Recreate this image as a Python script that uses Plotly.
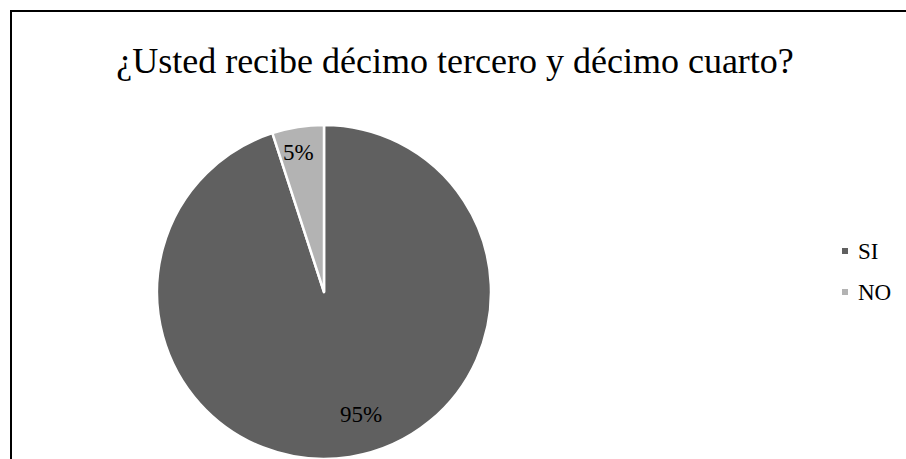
import plotly.graph_objects as go

# Survey answers
categories = ["SI", "NO"]
values = [95, 5]
colors = ["#606060", "#b3b3b3"]

W, H = 906, 459
FONT = "Liberation Serif"

total = sum(values)
pct_text = [f"{round(v / total * 100)}%" for v in values]

# Pie geometry in pixels (center and radius)
cx, cy, r = 324, 292, 167

fig = go.Figure(
    go.Pie(
        labels=categories,
        values=values,
        sort=False,
        direction="clockwise",
        rotation=0,
        marker=dict(colors=colors, line=dict(color="white", width=2.5)),
        textinfo="none",
        hoverinfo="label+percent",
        showlegend=False,
        domain=dict(x=[(cx - r) / W, (cx + r) / W], y=[1 - (cy + r) / H, 1 - (cy - r) / H]),
    )
)

# Percentage labels placed inside each slice
label_pos = {"SI": (361, 414), "NO": (298, 152)}
for cat, txt in zip(categories, pct_text):
    px, py = label_pos[cat]
    fig.add_annotation(
        x=px / W, y=1 - py / H, xref="paper", yref="paper",
        xanchor="center", yanchor="middle",
        text=txt, showarrow=False, font=dict(family=FONT, size=23, color="#000000"),
    )

# Legend: small square swatch followed by the category name
legend_x, legend_y0, legend_step, sw = 845, 251, 41, 6
for i, (cat, col) in enumerate(zip(categories, colors)):
    ly = legend_y0 + i * legend_step
    fig.add_shape(
        type="rect", xref="paper", yref="paper",
        x0=(legend_x - sw / 2) / W, x1=(legend_x + sw / 2) / W,
        y0=1 - (ly + sw / 2) / H, y1=1 - (ly - sw / 2) / H,
        line=dict(width=0), fillcolor=col,
    )
    fig.add_annotation(
        x=(legend_x + 11) / W, y=1 - ly / H, xref="paper", yref="paper",
        xanchor="left", yanchor="middle",
        text=cat, showarrow=False, font=dict(family=FONT, size=23, color="#000000"),
    )

# Outer chart border
fig.add_shape(
    type="rect", xref="paper", yref="paper",
    x0=11 / W, x1=1.05, y0=-0.05, y1=1 - 11 / H,
    line=dict(color="#000000", width=2), fillcolor="rgba(0,0,0,0)",
)

fig.update_layout(
    width=W, height=H,
    margin=dict(l=0, r=0, t=0, b=0),
    paper_bgcolor="white",
    plot_bgcolor="white",
    title=dict(
        text="¿Usted recibe décimo tercero y décimo cuarto?",
        x=455 / W, xanchor="center", y=1 - 60 / H, yanchor="middle",
        font=dict(family=FONT, size=36, color="#000000"),
    ),
    showlegend=False,
)

fig.write_html("out.html")
